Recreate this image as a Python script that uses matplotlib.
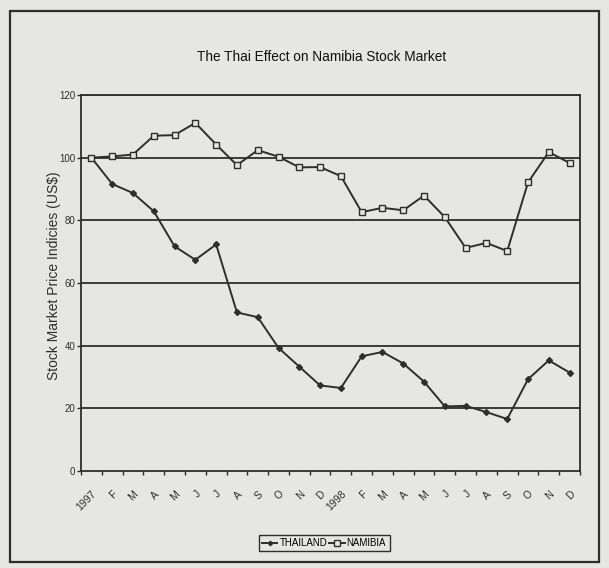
import matplotlib
matplotlib.use("Agg")
import matplotlib.pyplot as plt
from matplotlib.patches import Rectangle
from matplotlib import font_manager

# Monthly index values, Jan 1997 .. Dec 1998 (Jan 1997 = 100)
months = ["1997", "F", "M", "A", "M", "J", "J", "A", "S", "O", "N", "D",
          "1998", "F", "M", "A", "M", "J", "J", "A", "S", "O", "N", "D"]
thailand = [100, 91.6, 88.7, 82.9, 71.7, 67.4, 72.3, 50.6, 49.1, 39.3, 33.3, 27.3,
            26.5, 36.6, 38.0, 34.3, 28.5, 20.6, 20.8, 18.8, 16.6, 29.3, 35.3, 31.4]
namibia = [100, 100.4, 101, 107, 107.2, 111.1, 104.2, 97.6, 102.4, 100.3, 96.9, 97,
           94.1, 82.6, 84, 83.2, 87.9, 81, 71.2, 72.8, 70.2, 92.1, 101.8, 98.3]
y_ticks = [0, 20, 40, 60, 80, 100, 120]
series_names = ["THAILAND", "NAMIBIA"]
title = "The Thai Effect on Namibia Stock Market"
y_label = "Stock Market Price Indicies (US$)"

installed = {f.name for f in font_manager.fontManager.ttflist}
narrow = "Liberation Sans Narrow" if "Liberation Sans Narrow" in installed else "Liberation Sans"
plain = "Liberation Sans" if "Liberation Sans" in installed else "DejaVu Sans"

paper = "#e6e6e4"
ink = "#2e2e2e"

fig = plt.figure(figsize=(6.09, 5.68), dpi=100, facecolor=paper)
W, H = 609, 568

# outer chart frame
fig.patches.append(Rectangle((10 / W, 1 - 562 / H), 589 / W, 551 / H,
                             transform=fig.transFigure, fill=False,
                             edgecolor=ink, linewidth=1.6))

ax = fig.add_axes([81 / W, 1 - 471 / H, 499 / W, 376 / H], facecolor=paper)
x = list(range(len(months)))

ax.set_xlim(-0.5, len(months) - 0.5)
ax.set_ylim(0, 120)

for v in y_ticks[1:]:
    ax.axhline(v, color=ink, linewidth=1.3, zorder=1)

ax.plot(x, thailand, color=ink, linewidth=1.4, marker="D", markersize=3.0,
        markerfacecolor=ink, markeredgecolor=ink, label=series_names[0], zorder=3)
ax.plot(x, namibia, color=ink, linewidth=1.4, marker="s", markersize=5.0,
        markerfacecolor=paper, markeredgecolor=ink, markeredgewidth=1.0,
        label=series_names[1], zorder=3)

for s in ax.spines.values():
    s.set_color(ink)
    s.set_linewidth(1.3)

ax.set_yticks(y_ticks)
ax.set_yticklabels([str(v) for v in y_ticks], fontfamily=narrow, fontsize=7, color=ink)
ax.set_xticks([i - 0.5 for i in range(len(months) + 1)])
ax.set_xticklabels([])
ax.set_xticks(x, minor=True)
ax.set_xticklabels(months, minor=True, rotation=45, ha="right", va="top",
                   rotation_mode="anchor", fontfamily=plain, fontsize=7.5, color=ink)
ax.tick_params(axis="x", which="major", length=3, width=1, color=ink, direction="out")
ax.tick_params(axis="x", which="minor", length=0, pad=13)
ax.tick_params(axis="y", length=3, width=1, color=ink, pad=1)

ax.set_ylabel(y_label, fontfamily=plain, fontsize=10, color=ink)
ax.yaxis.set_label_coords(-0.040, 0.52)

fig.text(322 / W, 1 - 57 / H, title, ha="center", va="center",
         fontfamily=narrow, fontsize=9.8, color="#111111")

leg = fig.legend(loc="center", bbox_to_anchor=(324 / W, 1 - 543 / H), ncol=2,
                 frameon=True, fancybox=False, edgecolor=ink, facecolor=paper,
                 framealpha=1, prop={"family": narrow, "size": 7},
                 handlelength=1.6, handletextpad=0.2, columnspacing=0.2,
                 borderpad=0.35, borderaxespad=0, markerscale=0.75)
leg.get_frame().set_linewidth(1.0)

fig.savefig("out.png", dpi=100, facecolor=paper)
